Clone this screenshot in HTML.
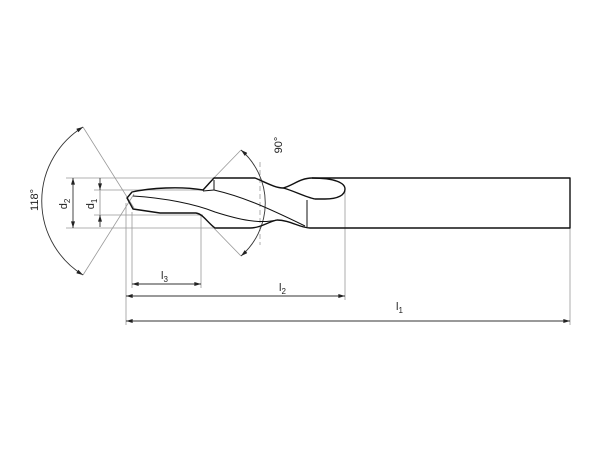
<!DOCTYPE html>
<html><head><style>html,body{margin:0;padding:0;background:#fff}svg{display:block}</style></head>
<body>
<svg width="600" height="450" viewBox="0 0 600 450" xmlns="http://www.w3.org/2000/svg" font-family="Liberation Sans, sans-serif">
<defs>
<marker id="a" viewBox="0 0 10 6" refX="10" refY="3" markerWidth="10" markerHeight="4" orient="auto-start-reverse" markerUnits="userSpaceOnUse"><path d="M0,0 L10,3 L0,6z" fill="#222"/></marker>
</defs>
<g stroke="#999" stroke-width="0.8" fill="none">
<line x1="66" y1="178" x2="214" y2="178"/>
<line x1="66" y1="228" x2="214" y2="228"/>
<line x1="94" y1="190" x2="203" y2="190"/>
<line x1="94" y1="215" x2="203" y2="215"/>
<line x1="126" y1="203" x2="126" y2="325"/>
<line x1="132" y1="212" x2="132" y2="288"/>
<line x1="201" y1="214" x2="201" y2="288"/>
<line x1="345" y1="190" x2="345" y2="300"/>
<line x1="570" y1="228" x2="570" y2="325"/>
<line x1="83" y1="127" x2="134" y2="208"/>
<line x1="83" y1="275" x2="134" y2="194"/>
<line x1="241" y1="150" x2="208" y2="184"/>
<line x1="241" y1="256" x2="206" y2="220"/>
<line x1="260" y1="162" x2="260" y2="245" stroke-dasharray="5,3"/>
</g>
<g stroke="#333" stroke-width="0.9" fill="none">
<path d="M83,127 A87,87 0 0 0 83,275" marker-start="url(#a)" marker-end="url(#a)"/>
<path d="M241,150 A70,70 0 0 1 241,256" marker-start="url(#a)" marker-end="url(#a)"/>
<line x1="73" y1="178" x2="73" y2="228" marker-start="url(#a)" marker-end="url(#a)"/>
<line x1="100" y1="178" x2="100" y2="190" marker-end="url(#a)"/>
<line x1="100" y1="227" x2="100" y2="215" marker-end="url(#a)"/>
<line x1="100" y1="190" x2="100" y2="215" stroke="#999"/>
<line x1="132" y1="284" x2="201" y2="284" marker-start="url(#a)" marker-end="url(#a)"/>
<line x1="126" y1="296" x2="345" y2="296" marker-start="url(#a)" marker-end="url(#a)"/>
<line x1="126" y1="321" x2="570" y2="321" marker-start="url(#a)" marker-end="url(#a)"/>
</g>
<g stroke="#111" stroke-width="1.4" fill="none" stroke-linejoin="round">
<path d="M203,190 L214,178 L255,178 C265,182 275,188 283,188 C292,186 300,178 312,178 L570,178 L570,228 L310,228 C300,228 290,220 277,220 C268,222 260,228 250,228 L215,228 C207,222 203,214 196,213 L160,213 L133,209 L127,198 L132,192 C150,188 180,186 203,190 Z"/>
<path d="M312,178 C335,178 345,183 345,189 C345,195 338,199 325,199 L315,199 C305,197 292,190 283,188"/>
<path d="M214,180 L214,190 L203,191" stroke-width="1"/>
<path d="M214,190 C240,196 262,205 305,226" stroke-width="1"/>
<path d="M307,200 L307,227" stroke-width="1"/>
<path d="M133,196 C165,198 195,204 215,212 C240,220 260,224 277,220" stroke-width="1"/>
</g>
<g fill="#222" font-size="11">
<text x="38" y="200" transform="rotate(-90 38 200)" text-anchor="middle">118°</text>
<text x="282" y="145" transform="rotate(-90 282 145)" text-anchor="middle">90°</text>
<text x="67" y="204" transform="rotate(-90 67 204)" text-anchor="middle">d<tspan font-size="8" dy="3">2</tspan></text>
<text x="94" y="204" transform="rotate(-90 94 204)" text-anchor="middle">d<tspan font-size="8" dy="3">1</tspan></text>
<text x="161" y="279">l<tspan font-size="8" dy="3">3</tspan></text>
<text x="279" y="291">l<tspan font-size="8" dy="3">2</tspan></text>
<text x="396" y="310">l<tspan font-size="8" dy="3">1</tspan></text>
</g>
</svg>
</body></html>
